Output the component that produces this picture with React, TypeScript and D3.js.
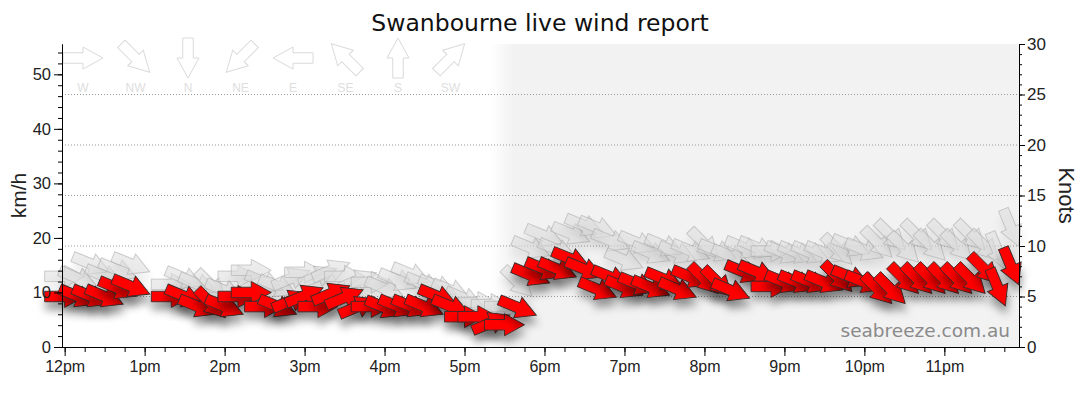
import React, { useEffect, useRef } from 'react';

import * as d3 from 'd3';

// 10 minute readings, speeds in knots, direction the wind comes from
const times = [
  '12:00', '12:10', '12:20', '12:30', '12:40', '12:50', '13:00', '13:10', '13:20', '13:30', '13:40', '13:50',
  '14:00', '14:10', '14:20', '14:30', '14:40', '14:50', '15:00', '15:10', '15:20', '15:30', '15:40', '15:50',
  '16:00', '16:10', '16:20', '16:30', '16:40', '16:50', '17:00', '17:10', '17:20', '17:30', '17:40', '17:50',
  '18:00', '18:10', '18:20', '18:30', '18:40', '18:50', '19:00', '19:10', '19:20', '19:30', '19:40', '19:50',
  '20:00', '20:10', '20:20', '20:30', '20:40', '20:50', '21:00', '21:10', '21:20', '21:30', '21:40', '21:50',
  '22:00', '22:10', '22:20', '22:30', '22:40', '22:50', '23:00', '23:10', '23:20', '23:30', '23:40', '23:50',
];

const windKnots = [
  5.0, 5.0, 5.0, 5.0, 5.8, 6.0, null, null, 5.0, 5.0, 4.0, 4.3,
  4.0, 5.0, 5.4, 4.0, 4.0, 4.6, 5.1, 4.0, 5.3, 4.9, 4.0, 4.0,
  3.9, 4.0, 4.0, 4.0, 5.0, 4.0, 3.0, 3.0, 2.4, 2.2, 3.9, 7.1,
  7.7, 7.7, 8.7, 7.7, 5.7, 6.9, 5.9, 6.2, 5.9, 6.7, 5.7, 6.9,
  6.7, 6.4, 5.6, 7.4, 7.4, 6.0, 6.4, 6.4, 6.4, 6.4, 6.9, 6.9,
  6.4, 5.7, 5.7, 6.7, 6.7, 6.7, 6.7, 6.7, 6.7, 7.7, 5.9, 8.0,
];

const windDirs = [
  'W', 'WNW', 'WNW', 'WNW', 'WNW', 'WNW', null, null, 'W', 'WNW', 'WNW', 'NW',
  'WNW', 'W', 'W', 'W', 'WNW', 'WSW', 'WSW', 'W', 'WSW', 'WSW', 'WSW', 'W',
  'WNW', 'WNW', 'WNW', 'WNW', 'WNW', 'WNW', 'W', 'W', 'WSW', 'W', 'WNW', 'WNW',
  'WNW', 'WNW', 'WNW', 'WNW', 'WNW', 'WNW', 'WNW', 'WNW', 'WNW', 'WNW', 'WNW', 'WNW',
  'NW', 'NW', 'WNW', 'WNW', 'WNW', 'W', 'WNW', 'WNW', 'WNW', 'WNW', 'NW', 'WNW',
  'WNW', 'NW', 'NW', 'NW', 'NW', 'NW', 'NW', 'NW', 'NW', 'NW', 'NNW', 'NNW',
];

const gustKnots = [
  7.0, 6.8, 8.2, 7.0, 7.6, 8.2, null, null, 6.2, 6.8, 6.2, 6.1,
  5.6, 7.0, 7.6, 6.4, 6.0, 6.8, 7.4, 7.0, 7.6, 7.0, 6.6, 6.4,
  5.8, 6.6, 7.2, 6.2, 6.0, 5.6, 4.8, 4.4, 4.2, 4.0, 6.4, 9.8,
  11.0, 9.6, 11.2, 12.0, 11.8, 10.5, 8.6, 10.3, 9.3, 10.0, 9.3, 9.5,
  10.2, 9.5, 9.0, 9.8, 9.8, 9.5, 9.3, 9.3, 9.3, 9.3, 9.6, 10.0,
  9.6, 10.3, 11.0, 9.8, 11.0, 10.0, 11.0, 10.0, 11.0, 10.0, 9.5, 11.8,
];

const gustDirs = [
  'W', 'WNW', 'WNW', 'WNW', 'WNW', 'WNW', null, null, 'W', 'WNW', 'WNW', 'NW',
  'WNW', 'W', 'W', 'WNW', 'WNW', 'WSW', 'W', 'WSW', 'WSW', 'W', 'WSW', 'W',
  'WNW', 'WNW', 'WNW', 'WNW', 'WNW', 'WNW', 'WNW', 'W', 'W', 'W', 'NW', 'WNW',
  'WNW', 'WNW', 'WNW', 'WNW', 'WNW', 'WNW', 'WNW', 'WNW', 'WNW', 'WNW', 'WNW', 'WNW',
  'NW', 'WNW', 'WNW', 'WNW', 'WNW', 'W', 'WNW', 'WNW', 'WNW', 'WNW', 'NW', 'WNW',
  'WNW', 'NW', 'NW', 'NW', 'NW', 'NW', 'NW', 'NW', 'NW', 'NW', 'NNW', 'NNW',
];

const legendDirs = ['W', 'NW', 'N', 'NE', 'E', 'SE', 'S', 'SW'];
const hourLabels = ['12pm', '1pm', '2pm', '3pm', '4pm', '5pm', '6pm', '7pm', '8pm', '9pm', '10pm', '11pm'];
const knotGrid = [5, 10, 15, 20, 25];
const sunset = '17:25';
const startTime = '11:58';
const endTime = '23:56';
const KMH_PER_KNOT = 1.852;

const compass: Record<string, number> = {
  N: 0, NNE: 22.5, NE: 45, ENE: 67.5, E: 90, ESE: 112.5, SE: 135, SSE: 157.5,
  S: 180, SSW: 202.5, SW: 225, WSW: 247.5, W: 270, WNW: 292.5, NW: 315, NNW: 337.5,
};

const toHours = (t: string) => {
  const [h, m] = t.split(':').map(Number);
  return h + m / 60;
};

// arrow pointing right, centred on the reading
const arrowPath = 'M-20,-5.25L0,-5.25L0,-11L20,0L0,11L0,5.25L-20,5.25Z';
const rotation = (dir: string) => compass[dir] - 270;

const App = (): React.ReactElement => {
  const svgRef = useRef<SVGSVGElement>(null);

  useEffect(() => {
    if (!svgRef.current) return;
    const width = 1080;
    const height = 414;
    const margin = { top: 44, right: 61, bottom: 67, left: 62 };
    const svg = d3.select(svgRef.current);
    svg.selectAll('*').remove();

    const x = d3
      .scaleLinear()
      .domain([toHours(startTime), toHours(endTime)])
      .range([margin.left, width - margin.right]);
    const yKn = d3.scaleLinear().domain([0, 30]).range([height - margin.bottom, margin.top]);
    const yKmh = d3
      .scaleLinear()
      .domain([0, 30 * KMH_PER_KNOT])
      .range([height - margin.bottom, margin.top]);

    const [x0, x1] = x.range();
    const [yb, yt] = yKn.range();
    const sx = x(toHours(sunset));

    const defs = svg.append('defs');
    const grad = defs
      .append('linearGradient')
      .attr('id', 'night')
      .attr('gradientUnits', 'userSpaceOnUse')
      .attr('x1', sx - 8)
      .attr('x2', sx + 16)
      .attr('y1', 0)
      .attr('y2', 0);
    grad.append('stop').attr('offset', 0).attr('stop-color', '#ffffff');
    grad.append('stop').attr('offset', 1).attr('stop-color', '#f2f2f2');

    const shadow = (id: string, opacity: number) =>
      defs
        .append('filter')
        .attr('id', id)
        .attr('x', '-60%')
        .attr('y', '-60%')
        .attr('width', '220%')
        .attr('height', '220%')
        .append('feDropShadow')
        .attr('dx', 1)
        .attr('dy', 8)
        .attr('stdDeviation', 4)
        .attr('flood-color', '#000')
        .attr('flood-opacity', opacity);
    shadow('shadowRed', 0.38);
    shadow('shadowGray', 0.12);

    // night shading
    svg
      .append('rect')
      .attr('x', sx - 8)
      .attr('y', yt)
      .attr('width', x1 - sx + 8)
      .attr('height', yb - yt)
      .attr('fill', 'url(#night)');

    // dotted knot grid
    svg
      .append('g')
      .selectAll('line')
      .data(knotGrid)
      .join('line')
      .attr('x1', x0)
      .attr('x2', x1)
      .attr('y1', (d) => yKn(d))
      .attr('y2', (d) => yKn(d))
      .attr('stroke', '#999')
      .attr('stroke-dasharray', '1,2');

    // direction key
    const legend = svg.append('g');
    legendDirs.forEach((d, i) => {
      const lx = 83 + i * 52.5;
      legend
        .append('path')
        .attr('d', arrowPath)
        .attr('transform', `translate(${lx},58) rotate(${rotation(d)})`)
        .attr('fill', '#fff')
        .attr('stroke', '#dadada');
      legend
        .append('text')
        .attr('x', lx)
        .attr('y', 92)
        .attr('text-anchor', 'middle')
        .attr('font-family', 'Liberation Sans, Arial, sans-serif')
        .attr('font-size', 12)
        .attr('fill', '#dedede')
        .text(d);
    });

    // watermark
    svg
      .append('text')
      .attr('x', x1 - 9)
      .attr('y', 337)
      .attr('text-anchor', 'end')
      .attr('font-family', 'DejaVu Sans, Verdana, sans-serif')
      .attr('font-size', 18.5)
      .attr('fill', '#8a8a8a')
      .text('seabreeze.com.au');

    const rows = times.map((t, i) => ({
      h: toHours(t),
      speed: windKnots[i],
      dir: windDirs[i],
      gust: gustKnots[i],
      gdir: gustDirs[i],
    }));

    // gusts first, underneath
    const gusts = svg.append('g');
    rows
      .filter((r) => r.gust != null && r.gdir)
      .forEach((r) => {
        gusts
          .append('g')
          .attr('filter', 'url(#shadowGray)')
          .attr('transform', `translate(${x(r.h)},${yKn(r.gust as number)})`)
          .append('path')
          .attr('d', arrowPath)
          .attr('transform', `rotate(${rotation(r.gdir as string)})`)
          .attr('fill', '#dddddd')
          .attr('fill-opacity', 0.55)
          .attr('stroke', '#a8a8a8')
          .attr('stroke-opacity', 0.55);
      });

    const winds = svg.append('g');
    rows
      .filter((r) => r.speed != null && r.dir)
      .forEach((r) => {
        winds
          .append('g')
          .attr('filter', 'url(#shadowRed)')
          .attr('transform', `translate(${x(r.h)},${yKn(r.speed as number)})`)
          .append('path')
          .attr('d', arrowPath)
          .attr('transform', `rotate(${rotation(r.dir as string)})`)
          .attr('fill', '#ff0000')
          .attr('stroke', '#3a2a2a')
          .attr('stroke-width', 0.9);
      });

    // axes
    const font = 'Liberation Sans, Arial, sans-serif';
    const styleAxis = (g: d3.Selection<SVGGElement, unknown, null, undefined>, size: number) => {
      g.attr('font-family', font).attr('font-size', size);
      g.selectAll('path').attr('stroke', '#000');
      g.selectAll('line').attr('stroke', '#000');
      g.selectAll('text').attr('fill', '#222').attr('font-family', font).attr('font-size', size);
    };

    const hours = d3.range(12, 24);
    const quarters = d3.range(12, 23.8, 0.25);

    const bottomMinor = svg
      .append('g')
      .attr('transform', `translate(0,${yb})`)
      .call(d3.axisBottom(x).tickValues(quarters).tickSize(5).tickSizeOuter(0).tickFormat(() => ''));
    styleAxis(bottomMinor, 16);
    const bottom = svg
      .append('g')
      .attr('transform', `translate(0,${yb})`)
      .call(
        d3
          .axisBottom(x)
          .tickValues(hours)
          .tickSize(9)
          .tickPadding(5)
          .tickSizeOuter(0)
          .tickFormat((_, i) => hourLabels[i]),
      );
    styleAxis(bottom, 16);

    const leftMinor = svg
      .append('g')
      .attr('transform', `translate(${x0},0)`)
      .call(d3.axisLeft(yKmh).tickValues(d3.range(0, 56, 2)).tickSize(4).tickSizeOuter(0).tickFormat(() => ''));
    styleAxis(leftMinor, 16.5);
    const left = svg
      .append('g')
      .attr('transform', `translate(${x0},0)`)
      .call(d3.axisLeft(yKmh).tickValues(d3.range(0, 51, 10)).tickSize(8).tickPadding(3).tickSizeOuter(0));
    styleAxis(left, 16.5);

    const rightMinor = svg
      .append('g')
      .attr('transform', `translate(${x1},0)`)
      .call(d3.axisRight(yKn).tickValues(d3.range(0, 31, 1)).tickSize(3).tickSizeOuter(0).tickFormat(() => ''));
    styleAxis(rightMinor, 17);
    const right = svg
      .append('g')
      .attr('transform', `translate(${x1},0)`)
      .call(d3.axisRight(yKn).tickValues(d3.range(0, 31, 5)).tickSize(6).tickPadding(2).tickSizeOuter(0));
    styleAxis(right, 17);

    // axis titles and heading
    svg
      .append('text')
      .attr('transform', `translate(26,${(yb + yt) / 2}) rotate(-90)`)
      .attr('text-anchor', 'middle')
      .attr('font-family', font)
      .attr('font-size', 21)
      .attr('fill', '#222')
      .text('km/h');
    svg
      .append('text')
      .attr('transform', `translate(1059,${(yb + yt) / 2}) rotate(90)`)
      .attr('text-anchor', 'middle')
      .attr('font-family', font)
      .attr('font-size', 22)
      .attr('fill', '#222')
      .text('Knots');
    svg
      .append('text')
      .attr('x', width / 2)
      .attr('y', 31)
      .attr('text-anchor', 'middle')
      .attr('font-family', 'DejaVu Sans, Verdana, sans-serif')
      .attr('font-size', 23.5)
      .attr('fill', '#111')
      .text('Swanbourne live wind report');
  });

  return (
    <svg
      ref={svgRef}
      width={1080}
      height={414}
      style={{ position: 'absolute', left: 0, top: 0, background: '#fff', display: 'block' }}
    />
  );
};

export default App;
